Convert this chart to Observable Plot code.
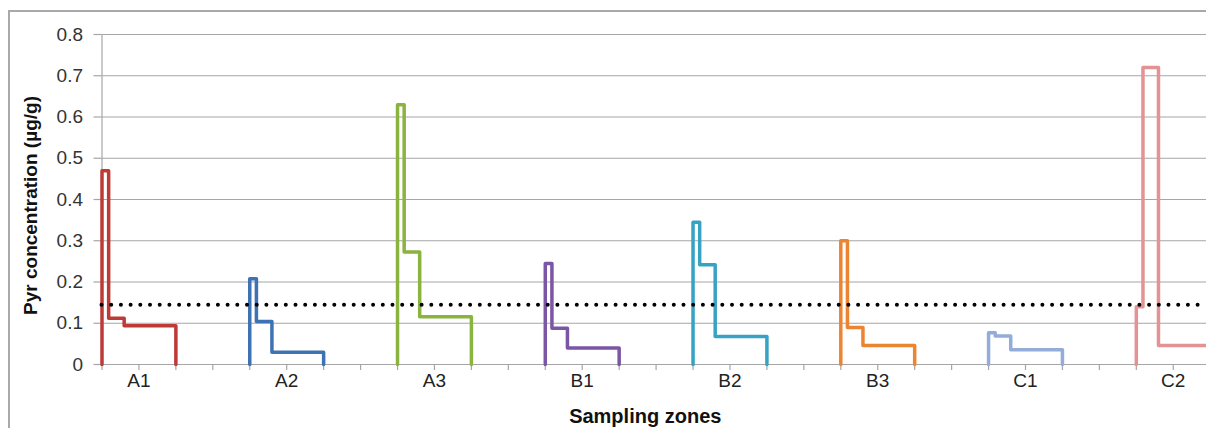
<!DOCTYPE html>
<html>
<head>
<meta charset="utf-8">
<script src="https://cdn.jsdelivr.net/npm/d3@7"></script>
<script src="https://cdn.jsdelivr.net/npm/@observablehq/plot@0.6"></script>
<style>
  html, body { margin: 0; padding: 0; background: #fff; overflow: hidden; }
  #wrap { position: relative; width: 1206px; height: 428px; overflow: hidden; }
  #border { position: absolute; left: 8px; top: 10px; width: 1300px; height: 500px;
            border-left: 2px solid #a9a9a9; border-top: 2px solid #a9a9a9; pointer-events: none; }
</style>
</head>
<body>
<div id="wrap"><div id="border"></div></div>
<script>
// ---- data ----
const zones  = ["A1", "A2", "A3", "B1", "B2", "B3", "C1", "C2"];
const layer1 = [0.47, 0.208, 0.63, 0.245, 0.345, 0.30, 0.077, 0.14];
const layer2 = [0.112, 0.104, 0.273, 0.088, 0.242, 0.09, 0.069, 0.72];
const layer3 = [0.094, 0.03, 0.116, 0.04, 0.068, 0.046, 0.036, 0.046];
const layerEdges = [0, 0.18, 0.6, 2.0];   // layer boundaries inside a zone (category units)
const zoneSpacing = 4;                    // categories per zone
const threshold = 0.145;
const yTicks = [0, 0.1, 0.2, 0.3, 0.4, 0.5, 0.6, 0.7, 0.8];
const zoneColors = ["#be3a36", "#3d72b4", "#8ab33f", "#7a56a5", "#37a3c4", "#ec8531", "#93acd8", "#e39393"];

// ---- build step profiles ----
const points = [];
zones.forEach((z, i) => {
  const x0 = i * zoneSpacing;
  const vals = [layer1[i], layer2[i], layer3[i]];
  points.push({zone: z, x: x0 + layerEdges[0], y: 0});
  vals.forEach((v, k) => {
    points.push({zone: z, x: x0 + layerEdges[k], y: v});
    points.push({zone: z, x: x0 + layerEdges[k + 1], y: v});
  });
  points.push({zone: z, x: x0 + layerEdges[3], y: 0});
});

const xTicks = d3.range(0, zones.length * zoneSpacing - 2);
const xLabel = t => (t % zoneSpacing === 1 ? zones[(t - 1) / zoneSpacing] : "");

const gray = "#a6a6a6";
const chart = Plot.plot({
  width: 1206,
  height: 428,
  marginLeft: 101.5,
  marginRight: 0,
  marginTop: 34,
  marginBottom: 64,
  style: {fontFamily: "'Liberation Sans', Arial, sans-serif", fontSize: "19px", background: "transparent"},
  x: {domain: [0, 29.9], axis: null},
  y: {domain: [0, 0.8], axis: null},
  color: {domain: zones, range: zoneColors},
  marks: [
    Plot.gridY(yTicks, {stroke: gray, strokeOpacity: 1, strokeWidth: 1.2}),
    Plot.axisY(yTicks, {tickSize: 8, tickPadding: 11, tickFormat: d => String(d), label: null,
                        stroke: gray, strokeWidth: 1.2, fill: "#333"}),
    Plot.ruleX([0], {stroke: gray, strokeWidth: 1.2}),
    Plot.axisX(xTicks, {tickSize: 6, tickPadding: 3, tickFormat: xLabel, label: null,
                        stroke: gray, strokeWidth: 1.2, fill: "#222"}),
    Plot.line(points, {x: "x", y: "y", z: "zone", stroke: "zone", strokeWidth: 3.5, curve: "linear"}),
    Plot.ruleY([threshold], {stroke: "#000", strokeWidth: 4, strokeDasharray: "0 9.7", strokeLinecap: "round"}),
    Plot.text(["Pyr concentration (µg/g)"], {frameAnchor: "left", textAnchor: "middle", lineAnchor: "middle",
                        rotate: -90, dx: -71, dy: 6, fontWeight: "bold", fontSize: 19, fill: "#111"}),
    Plot.text(["Sampling zones"], {frameAnchor: "bottom", textAnchor: "middle", lineAnchor: "middle",
                        dx: -9, dy: 52, fontWeight: "bold", fontSize: 20, fill: "#111"})
  ]
});
document.getElementById("wrap").insertBefore(chart, document.getElementById("border"));
</script>
</body>
</html>
